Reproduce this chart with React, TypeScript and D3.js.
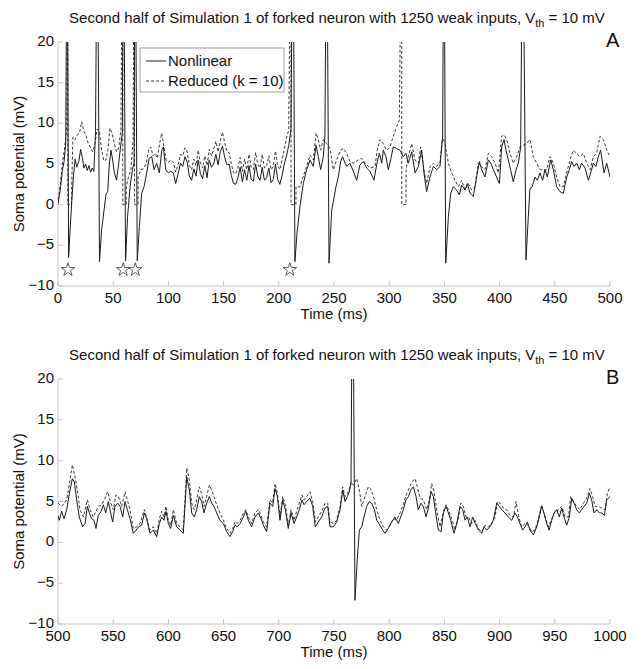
import * as d3 from 'd3';

type Pt = [number, number];

// ---- data ----
const xTicksA = [0, 50, 100, 150, 200, 250, 300, 350, 400, 450, 500];
const xTicksB = [500, 550, 600, 650, 700, 750, 800, 850, 900, 950, 1000];
const yTicks = [-10, -5, 0, 5, 10, 15, 20];
const seriesNames = ['Nonlinear', 'Reduced (k = 10)'];
const starTimes = [9, 59, 70, 210];
const starLevel = -8;

const nonlinearA: Pt[] = [
  [0, 0.2], [2, 1.8], [4, 4.2], [5.5, 5.3], [7, 7.5], [8.3, 40], [9.6, -6.5], [11, -3], [12.5, 0.5], [14, 3.5],
  [15.5, 5.6], [17, 4.6], [19, 5.4], [20.5, 6.8], [22, 5.8], [23.5, 4.5], [25, 5], [26.5, 4.2], [28, 4.8], [29.5, 4],
  [31, 4.5], [32.5, 4.1], [34, 9], [35.6, 40], [37.6, -7], [39.5, -3.1], [41.5, -0.9], [43.5, 1.3], [45, 1.6], [46.5, 5],
  [48, 6.7], [49.5, 5.5], [51, 4], [53, 3], [55, 5.1], [56.8, 7.3], [58.3, 8.8], [59.3, 40], [61.2, -6.9], [63, -1.5],
  [65.3, 2.2], [67.4, 4.3], [68.9, 5.1], [69.8, 40], [71.8, -6.9], [73.7, -2.7], [75.8, 1.4], [77.9, 2.2], [80.4, 3.9], [82.5, 5.7],
  [84.9, 5.9], [87, 4.3], [89.4, 5.1], [91.8, 3.9], [94, 6.7], [95.5, 7.1], [97.6, 4.3], [100, 3.9], [102, 4.1], [104.5, 3.9],
  [106.6, 2.6], [109, 3.9], [111, 5.1], [113, 4.7], [115, 5.9], [117, 5.2], [119, 3.5], [121, 3], [123, 4.4], [125, 3.5],
  [127, 5.5], [129, 3.8], [131, 3.2], [133, 4.8], [135, 3.3], [137, 5.5], [139, 4.6], [141, 5], [143, 6.2], [145, 4.9],
  [147, 6.5], [149, 7.2], [151, 5.8], [153, 4.9], [155, 5], [157, 3.6], [159, 2.6], [161, 2.5], [163, 3.3], [165, 4.6],
  [167, 2.8], [169, 4.3], [171, 3], [173, 4.8], [175, 3.1], [177, 2.9], [179, 5], [181, 3.5], [183, 3], [185, 4.6],
  [187, 3], [189, 3.3], [191, 4.5], [193, 2.7], [195, 3.1], [197, 5], [199, 3.1], [201, 2.5], [203, 3.6], [205, 5],
  [207, 6], [209, 7.3], [211, 9.2], [212.8, 40], [214.6, -7], [216.5, -3.5], [219.2, -0.2], [222.2, 2.6], [225.2, 4.3], [228.3, 5.5],
  [231.3, 4.7], [233.7, 7.3], [235.8, 5.9], [237.9, 4.3], [240.3, 5.9], [241.8, 8.6], [243.3, 40], [245.5, -7.2], [247.9, -0.7], [249.4, 0.4],
  [251.8, 2.2], [253.9, 3.4], [256, 5.3], [257.8, 5.9], [260, 5.1], [261.5, 4.7], [264.5, 5.1], [267.5, 4.1], [270.5, 3], [273.5, 4.9],
  [276.6, 5.3], [279.6, 4.5], [282.6, 4.1], [286.2, 3], [289.2, 5.3], [291.1, 6.3], [293.2, 5.1], [294.7, 6.7], [297.1, 5.9], [299.2, 4.3],
  [301.3, 5.5], [303.7, 7.1], [306.8, 6.9], [309.8, 6.7], [312.8, 5.9], [315.2, 6.3], [317.3, 5.1], [320.4, 6.5], [323.4, 3.9], [326.4, 4.7],
  [329.4, 6.7], [331.5, 3.9], [333.9, 1.6], [336.9, 3.4], [340, 4.7], [343, 4.3], [346, 4.7], [348.4, 8.4], [349.6, 40], [351.2, -7.2],
  [353.6, -1.5], [355.7, 1.4], [358.1, 2.2], [361.1, 1.8], [363.5, 1.2], [365.6, 2.4], [368.7, 1.8], [370.8, 2.6], [373.2, 1.4], [376.2, 1],
  [379.2, 3.4], [381.7, 5.3], [383.8, 4.3], [386.8, 3.4], [389.8, 5.5], [392, 5.1], [394.3, 4.3], [397.3, 3.4], [399.8, 2.6], [401.9, 7.1],
  [404, 8], [405.8, 6.7], [407.9, 5.5], [410, 4.3], [412.4, 2.8], [414.9, 4.3], [417, 5.1], [419.1, 7.1], [420.9, 40], [423.9, -6.8],
  [426, -1.5], [427.5, 2], [429.6, 2.2], [432, 3.4], [434.2, 3], [436.6, 3.9], [439, 3], [441.1, 4.3], [443.2, 3.4], [446.3, 5.5],
  [448.7, 4.3], [451.7, 2.2], [454.7, 1.6], [457.7, 1.4], [460.8, 3.4], [463.2, 4.3], [465.3, 5.3], [467.4, 4.7], [469.8, 5.1], [472.2, 4.3],
  [474.3, 5.1], [477.4, 4.5], [480.4, 3], [482.5, 3.9], [484.9, 5.1], [487.3, 4.7], [489.4, 5.9], [491.5, 6.7], [494.6, 3.9], [497, 5.1],
  [500, 3.4],
];

const reducedA: Pt[] = [
  [0, 0], [2, 2.5], [4, 5], [6, 7], [8, 9.5], [8.8, 40], [8.9, 0], [12.3, 0], [12.4, 2.2], [13.5, 8.3],
  [15.5, 8], [17.5, 8.6], [19.5, 8.8], [21.5, 10.2], [23.5, 9], [25.5, 8.4], [27.5, 7.5], [29.5, 7], [31.5, 6.5], [33.5, 7.5],
  [35.5, 9.3], [37.5, 9], [39.5, 6.7], [41.5, 5.4], [43.5, 5.5], [45.5, 7], [47, 9.4], [49, 8.8], [51, 7.5], [53, 6.5],
  [55, 7], [57, 9.2], [58.6, 40], [58.7, 0], [61.8, 0], [61.9, 2.2], [64, 3.5], [66, 4.3], [68, 8], [69.2, 40],
  [69.3, 0], [72.5, 0], [72.6, 3.4], [75, 4.3], [77.5, 4.4], [80, 5.1], [82, 6.7], [84, 7.1], [86, 6], [88, 6.3],
  [90, 5.7], [92, 7.5], [94, 8.8], [96, 7], [98, 5.5], [100, 5.2], [102, 5.5], [104.5, 5.2], [106.6, 4], [109, 5],
  [111, 6.2], [113, 6], [115, 7], [117, 6.5], [119, 4.8], [121, 4.3], [123, 5.6], [125, 4.8], [127, 6.7], [129, 5.1],
  [131, 4.5], [133, 6], [135, 4.8], [137, 6.8], [139, 6], [141, 6.8], [143, 7.8], [145, 6.5], [147, 7.8], [149, 8.9],
  [151, 7.6], [153, 6.5], [155, 6.4], [157, 5], [159, 3.9], [161, 3.8], [163, 4.5], [165, 5.8], [167, 4.1], [169, 5.6],
  [171, 4.3], [173, 6.2], [175, 4.6], [177, 4.3], [179, 6.4], [181, 5], [183, 4.5], [185, 6.2], [187, 4.5], [189, 4.8],
  [191, 6], [193, 4.3], [195, 4.7], [197, 6.6], [199, 4.8], [201, 4.3], [203, 5.5], [205, 6.8], [207, 8.2], [209, 9.2],
  [211, 40], [211.1, 0], [215.5, 0], [215.6, 2.2], [219.2, 2.2], [222, 3.4], [225.2, 4.7], [228.3, 6.1], [231.3, 5.5], [233.7, 8.8],
  [235.8, 8], [237.9, 6.7], [240.3, 8], [243.4, 7.5], [246.4, 6.9], [249.4, 4.3], [252.4, 5.5], [256, 6.7], [258.5, 6.9], [261.5, 6.3],
  [264.5, 5.3], [267.5, 5.1], [272, 5.5], [275.1, 5.7], [278.1, 5.1], [282.6, 4.5], [287.1, 4.7], [289.2, 6.7], [291.7, 8], [294.7, 7.5],
  [297.7, 6.7], [300.7, 7.1], [303.7, 8.4], [306.8, 9.6], [309.2, 10.4], [311.3, 40], [311.4, 0], [315.2, 0], [315.3, 4.3], [317.3, 5.9],
  [320.4, 7.5], [323.4, 5.5], [326.4, 5.1], [328.5, 7.1], [331.5, 4.3], [333.9, 2.6], [337, 4.7], [340, 5.1], [343, 4.7], [346, 5.3],
  [348.4, 8.4], [350.5, 7.5], [353.6, 5.1], [356.6, 3.9], [359.6, 3], [362.6, 2.2], [365.6, 3], [368.7, 1.8], [371.7, 2.6], [374.7, 1.8],
  [377.7, 2.2], [380.7, 5.1], [383.8, 4.7], [386.8, 4.3], [389.8, 6.3], [392.8, 5.9], [395.8, 5.1], [398.9, 3.9], [401.9, 8.4], [404, 8.6],
  [406.4, 8], [409.4, 6.3], [412.4, 5.1], [415.5, 5.9], [418.5, 7.1], [421.5, 7.3], [424.5, 7.5], [427.5, 8], [430.5, 5.9], [433.6, 5.1],
  [436.6, 4.3], [439.6, 4.3], [442.6, 4.3], [445.6, 5.9], [448.7, 5.1], [451.7, 3.4], [454.7, 2.2], [457.7, 2.2], [460.8, 3.9], [463.8, 5.5],
  [466.8, 6.7], [469.8, 6.3], [472.8, 5.9], [475.8, 6.3], [478.9, 5.1], [481.9, 4.3], [484.9, 5.9], [487.9, 6.3], [490.9, 8.4], [494, 8],
  [497, 6.7], [500, 5.9],
];

const nonlinearB: Pt[] = [
  [500, 3.3], [501.2, 2.7], [503.3, 3.8], [505.4, 2.9], [507.9, 4], [510.3, 6], [513, 7.8], [514.8, 7.4], [516.9, 5.2], [519.3, 3.1],
  [522.3, 1.9], [524.5, 2.3], [526.6, 4.4], [528.4, 3.6], [530.5, 2.9], [532.6, 2.7], [534.4, 1.7], [536.5, 3.3], [539, 3.8], [541.1, 4.6],
  [543.2, 3.6], [545.6, 5], [547.7, 3.6], [549.5, 2.5], [551.6, 4.4], [554.1, 4.8], [556.2, 4.4], [558.6, 3.1], [560.7, 5], [562.8, 4],
  [565.2, 2.9], [568.2, 1.1], [570.7, 1.5], [573.1, 1.9], [575.8, 2.1], [578.2, 3.6], [580.3, 2.9], [583.3, 1.1], [586.4, 1.5], [589.4, 0.7],
  [591.8, 2.3], [594, 3.1], [596, 2.7], [597.8, 3.8], [600, 2.3], [602, 1.7], [604.5, 3.3], [607.5, 1.9], [610.5, 1.5], [613.5, 1.1],
  [616.6, 8], [619, 6.4], [621.1, 3.6], [623.5, 3.1], [625.6, 4], [628, 5.6], [630.1, 5], [632.2, 3.6], [634.7, 4.8], [637.1, 5.6],
  [639.2, 4.8], [641.3, 4.4], [643.7, 3.6], [646.7, 2.7], [649.8, 2.3], [652.8, 1.3], [655.8, 0.7], [658.2, 1.3], [660.3, 2.1], [662.4, 1.9],
  [664.9, 2.3], [667.9, 3.1], [670, 3.8], [672.4, 2.7], [675.4, 1.9], [678.4, 3.1], [681.5, 3.6], [683.9, 2.9], [686, 2.1], [689, 1.3],
  [692, 4.8], [694.5, 4.4], [696.6, 6.6], [698.7, 5.6], [701.1, 2.7], [703.5, 5.2], [705.9, 4], [708.6, 1.7], [711.1, 3.6], [713.8, 2.3],
  [716.2, 3.1], [718.6, 4], [721, 5.2], [722.8, 4.6], [725.2, 5], [728.3, 5.4], [730.7, 4.4], [733.1, 1.9], [735.8, 2.5], [738.8, 3.1],
  [741.8, 4.2], [744.3, 4.4], [746.4, 1.9], [749.4, 1.9], [752.4, 2.5], [755.5, 4], [757.9, 6.4], [760, 5], [762.1, 5.6], [763.9, 6.2],
  [765.4, 7.2], [766.9, 40], [769, -7.1], [771.2, -1.8], [773, 1.5], [775.1, 1.9], [777.2, 3.1], [779.6, 4.4], [782, 5], [784.1, 4.8],
  [786.6, 4], [788.7, 2.7], [791.7, 2.1], [794.1, 1.5], [796.2, 1.1], [799.2, 1.7], [802.3, 2.5], [805.3, 3.1], [808.3, 2.3], [810.4, 3.1],
  [812.8, 4], [815.2, 5.2], [817.4, 5.6], [819.5, 6.4], [821.9, 6.8], [824.3, 5.6], [826.4, 4], [828.8, 4.8], [830.9, 4.4], [833.4, 3.1],
  [835.5, 4.2], [837.9, 6.2], [840, 5.6], [842.1, 3.6], [844.5, 1.5], [847, 1.3], [849.1, 3.6], [851.5, 4.4], [853.6, 3.6], [855.7, 2.7],
  [858.7, 1.1], [861.1, 2.3], [864.2, 4.4], [866.6, 4], [868.7, 2.7], [870.8, 3.1], [873.2, 1.9], [875.6, 3.1], [878, 2.3], [880.8, 1.5],
  [883.8, 1.1], [885.9, 1.9], [888.3, 1.5], [891.3, 1.9], [894.3, 2.7], [897.4, 4.8], [899.8, 4.4], [901.9, 4], [904.9, 3.6], [907.9, 3.1],
  [911, 2.7], [914, 3.6], [916.1, 3.1], [918.5, 2.3], [920.9, 1.5], [923, 1.9], [925.1, 2.5], [927.6, 1.5], [930.6, 0.9], [933.6, 1.9],
  [936, 3.1], [938.1, 4.4], [940.2, 3.6], [942.7, 2.3], [944.8, 1.5], [947.2, 2.7], [949.3, 3.6], [951.7, 4], [954.1, 3.1], [956.2, 4.2],
  [958.4, 3.1], [960.8, 2.1], [963.2, 3.1], [965.3, 5.4], [967.4, 4.8], [969.8, 4], [972.2, 3.6], [974.3, 4], [976.5, 4.4], [978.9, 4.8],
  [981.3, 6], [983.4, 5.2], [985.5, 3.6], [988, 4], [990.4, 3.6], [992.5, 3.6], [994.9, 3.3], [997, 5.2], [1000, 5.6],
];

const reducedB: Pt[] = [
  [500, 4.8], [503.3, 4.4], [507.9, 5.2], [510.3, 7.2], [513, 9.5], [515.4, 8], [517.5, 6.4], [519.9, 4], [523, 3.1], [526.6, 5.2],
  [529, 4], [532, 3.1], [536.5, 4.4], [539.6, 4.6], [542.6, 5.4], [545, 6.2], [547.7, 4.8], [550.1, 4], [552.5, 5.8], [554.7, 5.6],
  [557.7, 4.4], [560.7, 6.2], [562.8, 5.2], [565.2, 4], [568.2, 1.7], [571.3, 1.9], [574.3, 2.3], [578.2, 4], [580.3, 3.1], [583.3, 1.5],
  [586.4, 1.9], [589.4, 1.1], [591.8, 2.9], [593.9, 3.8], [596, 3.1], [597.8, 4.4], [599.9, 2.7], [602.1, 2.1], [604.5, 4], [607.5, 2.3],
  [610.5, 1.9], [613.5, 1.5], [616.6, 9.1], [619, 7.6], [621.1, 4.8], [623.5, 4], [625.6, 5.2], [628, 6.8], [630.1, 6], [632.3, 4.4],
  [634.7, 5.6], [637.1, 7], [639.2, 6.4], [641.3, 5.6], [643.7, 4.6], [646.7, 3.6], [649.8, 2.7], [652.8, 1.7], [655.8, 1.1], [658.2, 1.7],
  [660.3, 2.5], [662.4, 2.3], [664.9, 2.7], [667.9, 3.6], [670, 4], [672.4, 3.1], [675.4, 2.3], [678.4, 3.6], [681.5, 4], [683.9, 3.3],
  [686, 2.5], [689, 1.9], [692, 5.2], [694.4, 4.8], [696.6, 7.2], [698.7, 6], [701.1, 3.1], [703.5, 5.6], [705.9, 4.6], [708.6, 2.1],
  [711.1, 4], [713.8, 2.7], [716.2, 3.8], [718.6, 4.8], [721, 5.8], [722.8, 5.2], [725.2, 5.6], [728.3, 6.2], [730.7, 5], [733.1, 2.5],
  [735.8, 3.1], [738.8, 3.8], [741.9, 4.8], [744.3, 4.8], [746.4, 2.5], [749.4, 2.3], [752.4, 2.7], [755.5, 4.4], [757.9, 6.8], [760, 5.6],
  [762.1, 6], [763.9, 6.6], [765.4, 7.4], [767.5, 7], [770.6, 7.8], [773, 6.4], [775.1, 4.4], [778.1, 5.6], [781.1, 6.8], [783.2, 6.6],
  [785.7, 5.6], [788.7, 4], [791.7, 2.7], [794.7, 1.9], [797.7, 1.5], [800.7, 2.1], [803.8, 2.9], [806.8, 2.7], [809.8, 3.6], [812.8, 4.6],
  [815.2, 5.8], [817.4, 6.4], [820.4, 7.4], [823.4, 7.8], [825.5, 6.8], [827.9, 5.4], [830.9, 5.2], [834, 4], [836.4, 5.2], [838.5, 7.2],
  [840.6, 6.2], [843, 4], [846, 1.9], [849.1, 3.8], [851.5, 4.6], [853.6, 4], [856.6, 2.9], [859.6, 1.5], [862.6, 2.9], [864.8, 4.8],
  [867.2, 4.4], [869.6, 3.1], [871.7, 3.1], [874.7, 2.3], [877.7, 2.7], [880.8, 1.7], [883.8, 1.3], [886.8, 2.1], [889.8, 1.9], [892.8, 2.3],
  [895.9, 3.1], [898, 5], [900.4, 4.8], [903.4, 4.2], [906.4, 4], [909.4, 3.3], [912.5, 3.1], [914.9, 5], [917, 3.3], [920, 1.9],
  [923, 2.3], [926, 2.1], [929.1, 1.3], [932.1, 1.5], [935.1, 2.9], [938.1, 4.6], [941.1, 3.1], [944.2, 1.9], [947.2, 2.9], [950.2, 3.8],
  [953.2, 4], [956.2, 4.4], [959.3, 3.1], [962.3, 3.1], [964.4, 5.6], [966.8, 5], [969.8, 4.4], [972.8, 4], [975.9, 4.8], [978.9, 5.4],
  [981.9, 6.6], [984.3, 5.6], [986.4, 4.4], [989.5, 4.4], [992.5, 4.2], [995.5, 4], [997.6, 6], [1000, 6.8],
];

// ---- layout ----
const W = 643;
const H = 669;
const X0 = 58;
const X1 = 610;
const FONT = '"Liberation Sans", Arial, Helvetica, sans-serif';
const AXIS_COLOR = '#c4c4c4';
const FS = 15;

interface PanelProps {
  id: string;
  top: number;
  bottom: number;
  xDomain: [number, number];
  xTicks: number[];
  nonlinear: Pt[];
  reduced: Pt[];
  stars?: number[];
  letter: string;
  legend?: boolean;
}

function Panel({ id, top, bottom, xDomain, xTicks, nonlinear, reduced, stars, letter, legend }: PanelProps) {
  const x = d3.scaleLinear().domain(xDomain).range([X0, X1]);
  const y = d3.scaleLinear().domain([-10, 20]).range([bottom, top]);
  const line = d3
    .line<Pt>()
    .x((d) => x(d[0]))
    .y((d) => y(d[1]));
  const star = d3.symbol().type(d3.symbolStar).size(55)();
  const midX = (X0 + X1) / 2;

  return (
    <g>
      <defs>
        <clipPath id={`clip-${id}`}>
          <rect x={X0} y={top} width={X1 - X0} height={bottom - top} />
        </clipPath>
      </defs>

      {/* title */}
      <text x={midX + 3} y={top - 19} textAnchor="middle" fontSize={FS} fill="#111">
        Second half of Simulation 1 of forked neuron with 1250 weak inputs, V
        <tspan fontSize={11} dy={4}>th</tspan>
        <tspan dy={-4}> = 10 mV</tspan>
      </text>
      <text x={606} y={top + 5} fontSize={20} fill="#111">
        {letter}
      </text>

      {/* axes */}
      <line x1={X0} x2={X0} y1={top} y2={bottom} stroke={AXIS_COLOR} />
      <line x1={X0} x2={X1} y1={bottom} y2={bottom} stroke={AXIS_COLOR} />
      {xTicks.map((t) => (
        <g key={`x${t}`}>
          <line x1={x(t)} x2={x(t)} y1={bottom} y2={bottom - 5} stroke={AXIS_COLOR} />
          <text x={x(t)} y={bottom + 17} textAnchor="middle" fontSize={FS} fill="#111">
            {t}
          </text>
        </g>
      ))}
      {yTicks.map((t) => (
        <g key={`y${t}`}>
          <line x1={X0} x2={X0 + 5} y1={y(t)} y2={y(t)} stroke={AXIS_COLOR} />
          <text x={X0 - 4} y={y(t) - 1} dy="0.34em" textAnchor="end" fontSize={FS} fill="#111">
            {t < 0 ? `\u2212${Math.abs(t)}` : t}
          </text>
        </g>
      ))}
      <text x={midX} y={bottom + 33} textAnchor="middle" fontSize={FS} fill="#111">
        Time (ms)
      </text>
      <text
        transform={`translate(24, ${(top + bottom) / 2}) rotate(-90)`}
        textAnchor="middle"
        fontSize={FS}
        fill="#111"
      >
        Soma potential (mV)
      </text>

      {/* traces */}
      <g clipPath={`url(#clip-${id})`}>
        <path d={line(reduced) ?? ''} fill="none" stroke="#3a3a3a" strokeWidth={1} strokeDasharray="3 2" />
        <path d={line(nonlinear) ?? ''} fill="none" stroke="#1a1a1a" strokeWidth={1} />
      </g>

      {(stars ?? []).map((t) => (
        <path
          key={`s${t}`}
          d={star ?? ''}
          transform={`translate(${x(t)}, ${y(starLevel)})`}
          fill="white"
          stroke="#333"
          strokeWidth={0.8}
        />
      ))}

      {legend && (
        <g>
          <rect x={140} y={top + 6} width={144} height={44} fill="white" stroke="#a0a0a0" />
          <line x1={146} x2={166} y1={top + 19} y2={top + 19} stroke="#1a1a1a" />
          <text x={168} y={top + 24} fontSize={FS} fill="#111">
            {seriesNames[0]}
          </text>
          <line x1={146} x2={166} y1={top + 39} y2={top + 39} stroke="#3a3a3a" strokeDasharray="3 2" />
          <text x={168} y={top + 44} fontSize={FS} fill="#111">
            {seriesNames[1]}
          </text>
        </g>
      )}
    </g>
  );
}

export default function App() {
  return (
    <svg
      width={W}
      height={H}
      style={{ position: 'absolute', left: 0, top: 0, background: 'white' }}
      fontFamily={FONT}
    >
      <rect width={W} height={H} fill="white" />
      <Panel
        id="a"
        top={42}
        bottom={286}
        xDomain={[0, 500]}
        xTicks={xTicksA}
        nonlinear={nonlinearA}
        reduced={reducedA}
        stars={starTimes}
        letter="A"
        legend
      />
      <Panel
        id="b"
        top={379}
        bottom={624}
        xDomain={[500, 1000]}
        xTicks={xTicksB}
        nonlinear={nonlinearB}
        reduced={reducedB}
        letter="B"
      />
    </svg>
  );
}
